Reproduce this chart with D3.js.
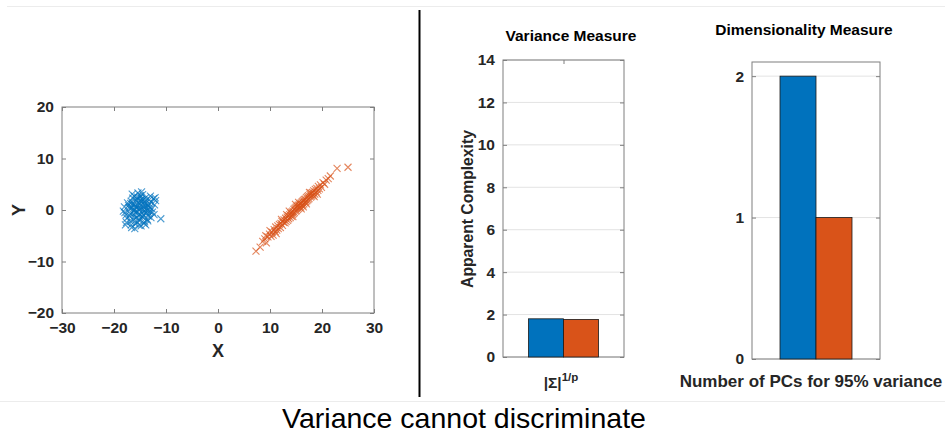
<!DOCTYPE html>
<html>
<head>
<script src="https://cdn.jsdelivr.net/npm/d3@7"></script>
<style>
    body { margin: 0; background: #fff; font-family: Arial, "Liberation Sans", Helvetica, sans-serif; }
    svg { display: block; }
</style>
</head>
<body>
<svg id="fig" width="945" height="434"></svg>
<script>
// scatter data: cluster 1 (blue) and cluster 2 (orange)
const blueX = [-15.2,-14.1,-16.3,-13.5,-15.8,-14.6,-16.9,-13.9,-15.1,-14.4,-17.5,-12.8,-15.6,-14.9,-16.1,-13.2,-17.8,-15.4,-14.2,-16.6,
    -12.4,-15.9,-14.7,-13.6,-16.4,-15.0,-17.2,-14.0,-13.1,-15.3,-16.8,-14.5,-12.2,-15.7,-17.9,-13.8,-16.2,-14.8,-15.5,-13.4,
    -16.7,-12.6,-14.3,-15.9,-17.0,-13.0,-14.6,-16.0,-15.2,-13.7,-18.2,-14.1,-16.5,-12.9,-15.4,-14.4,-17.4,-13.3,-16.3,-15.0,
    -11.0,-14.8,-16.0,-13.6,-15.6,-17.6,-12.3,-14.2,-16.9,-15.1,-13.9,-14.7,-16.1,-12.0,-15.3,-17.1,-13.5,-14.0,-16.6,-15.8,
    -12.7,-14.5,-16.4,-13.2,-15.5,-17.7,-14.9,-13.8,-16.2,-15.0,-12.1,-18.0,-14.3,-16.7,-13.1,-15.7,-14.6,-16.8,-13.4,-15.2];
const blueY = [0.4,1.2,-0.8,0.9,1.9,-1.3,0.2,2.4,-2.1,0.1,-1.6,1.5,-0.3,2.8,1.1,-0.7,-2.9,3.3,-2.6,-3.4,
    2.2,0.7,1.6,-1.8,2.3,-0.9,0.9,-0.2,0.5,1.4,-2.2,3.0,1.0,-1.5,-0.5,1.9,-0.1,-3.1,2.5,-1.2,
    1.7,-0.4,0.6,-2.7,-1.1,2.7,-0.6,0.0,-1.7,0.3,-0.2,-2.3,3.1,-1.5,0.9,2.0,1.4,1.3,-1.9,1.8,
    -1.7,0.2,-3.6,-0.1,2.1,-2.4,-0.9,1.5,-0.7,0.1,-2.9,3.5,2.7,1.8,-1.0,0.5,-2.1,0.8,0.4,-0.5,
    0.2,-1.4,1.0,2.0,-2.4,-1.0,1.0,-0.6,-1.3,2.4,2.4,0.6,-1.0,-2.9,-0.3,0.5,2.2,1.3,0.8,-3.0];
const orangeX = [7.3,8.1,8.6,9.0,9.3,9.6,9.9,10.2,10.4,10.6,10.8,11.0,11.1,11.3,11.5,11.6,11.8,12.0,12.1,12.3,
    12.4,12.6,12.7,12.9,13.0,13.1,13.3,13.4,13.5,13.6,13.8,13.9,14.0,14.1,14.2,14.3,14.4,14.5,14.6,14.7,
    14.8,14.9,15.0,15.1,15.2,15.3,15.4,15.5,15.6,15.7,15.8,15.9,16.0,16.1,16.2,16.3,16.4,16.5,16.6,16.7,
    16.8,16.9,17.0,17.1,17.2,17.3,17.4,17.5,17.7,17.8,17.9,18.0,18.2,18.3,18.4,18.6,18.7,18.9,19.0,19.2,
    19.3,19.5,19.7,19.9,20.2,20.5,20.8,21.2,21.6,22.9,25.0,
    12.2,13.2,14.4,15.5,16.4,17.6,18.5,11.2,10.0,9.2,13.7,16.0,17.0,19.1,14.9];
const orangeY = [-8.0,-7.2,-6.1,-5.6,-6.4,-5.2,-4.7,-5.1,-4.3,-4.9,-3.8,-4.2,-3.3,-3.9,-3.1,-3.6,-2.8,-3.4,-2.6,-2.2,
    -3.0,-2.4,-1.9,-2.5,-1.6,-2.2,-1.4,-2.0,-1.1,-1.7,-0.9,-1.5,-0.6,-1.2,-0.4,-0.9,-0.2,-0.7,0.1,-0.5,
    0.3,-0.2,0.5,-0.1,0.7,0.1,0.9,0.3,1.0,0.5,1.2,0.6,1.4,0.9,1.6,1.0,1.8,1.2,2.0,1.5,
    2.1,1.6,2.4,1.8,2.6,2.0,2.8,2.2,3.0,2.5,3.3,2.7,3.4,2.9,3.7,3.1,4.0,3.5,4.2,3.8,
    4.6,4.1,4.9,4.4,5.3,5.0,5.8,6.1,6.6,8.1,8.3,
    -1.8,-0.9,-1.3,1.5,0.6,3.4,2.6,-4.6,-4.0,-5.0,-0.2,0.2,1.2,3.1,1.1];
const scatterXTicks = [-30,-20,-10,0,10,20,30];
const scatterYTicks = [-20,-10,0,10,20];

// bar data
const seriesNames = ["blue", "orange"];
const varCategory = ["var"];
const varValues = [1.80, 1.77];
const varTicks = [0,2,4,6,8,10,12,14];
const dimCategory = ["dim"];
const dimValues = [2, 1];
const dimTicks = [0,1,2];

const colors = {blue: "#0072BD", orange: "#D95319"};
const axisColor = "#262626";
const boxColor = "#7f7f7f";
const fontFam = "Arial, 'Liberation Sans', Helvetica, sans-serif";

const svg = d3.select("#fig").style("font-family", fontFam);

// frame lines
svg.append("line").attr("x1", 7).attr("x2", 945).attr("y1", 6.5).attr("y2", 6.5)
    .attr("stroke", "#ececec").attr("stroke-width", 1);
svg.append("line").attr("x1", 0).attr("x2", 945).attr("y1", 401.5).attr("y2", 401.5)
    .attr("stroke", "#ececec").attr("stroke-width", 1);
svg.append("line").attr("x1", 419.5).attr("x2", 419.5).attr("y1", 10).attr("y2", 397)
    .attr("stroke", "#000").attr("stroke-width", 2);

// draws a MATLAB style box with inward ticks on all sides
function boxAxes(g, x, y, xTicks, yTicks, grid, showXLabels) {
    const [x0, x1] = x.range();
    const [y0, y1] = [y.range()[1], y.range()[0]];
    if (grid) {
        g.append("g").selectAll("line").data(yTicks).join("line")
            .attr("x1", x0).attr("x2", x1)
            .attr("y1", d => y(d)).attr("y2", d => y(d))
            .attr("stroke", "#e3e3e3");
    }
    const bottom = g.append("g").attr("transform", `translate(0,${y1})`)
        .call(d3.axisBottom(x).tickValues(xTicks).tickSize(-4).tickPadding(9)
            .tickFormat(showXLabels ? d3.format("d") : ""));
    const top = g.append("g").attr("transform", `translate(0,${y0})`)
        .call(d3.axisTop(x).tickValues(xTicks).tickSize(-4).tickFormat(""));
    const left = g.append("g").attr("transform", `translate(${x0},0)`)
        .call(d3.axisLeft(y).tickValues(yTicks).tickSize(-4).tickPadding(8).tickFormat(d3.format("d")));
    const right = g.append("g").attr("transform", `translate(${x1},0)`)
        .call(d3.axisRight(y).tickValues(yTicks).tickSize(-4).tickFormat(""));
    [bottom, top, left, right].forEach(a => {
        a.attr("font-family", fontFam).attr("font-size", 15.5).attr("font-weight", "bold");
        a.select(".domain").remove();
        a.selectAll(".tick line").attr("stroke", boxColor);
        a.selectAll(".tick text").attr("fill", axisColor);
    });
    g.append("rect").attr("x", x0).attr("y", y0).attr("width", x1 - x0).attr("height", y1 - y0)
        .attr("fill", "none").attr("stroke", boxColor).attr("stroke-width", 1);
}

// ---- scatter ----
const sx = d3.scaleLinear().domain([-30, 30]).range([62, 374]);
const sy = d3.scaleLinear().domain([-20, 20]).range([313, 107]);
const gs = svg.append("g");
boxAxes(gs, sx, sy, scatterXTicks, scatterYTicks, false, true);

const xMark = "M-3.5,-3.5L3.5,3.5M-3.5,3.5L3.5,-3.5";
const pts = gs.append("g");
pts.selectAll(".b").data(d3.range(blueX.length)).join("path")
    .attr("class", "b")
    .attr("transform", i => `translate(${sx(blueX[i])},${sy(blueY[i])})`)
    .attr("d", xMark).attr("stroke", colors.blue).attr("stroke-width", 1.1).attr("stroke-opacity", 0.7).attr("fill", "none");
pts.selectAll(".o").data(d3.range(orangeX.length)).join("path")
    .attr("class", "o")
    .attr("transform", i => `translate(${sx(orangeX[i])},${sy(orangeY[i])})`)
    .attr("d", xMark).attr("stroke", colors.orange).attr("stroke-width", 1.1).attr("stroke-opacity", 0.7).attr("fill", "none");

gs.append("text").attr("x", 218).attr("y", 357).attr("text-anchor", "middle")
    .attr("font-weight", "bold").attr("font-size", 18).attr("fill", axisColor).text("X");
gs.append("text").attr("transform", "translate(25,210) rotate(-90)").attr("text-anchor", "middle")
    .attr("font-weight", "bold").attr("font-size", 18).attr("fill", axisColor).text("Y");

// ---- bar charts ----
function barChart(opts) {
    const g = svg.append("g");
    const x = d3.scaleBand().domain(opts.category).range(opts.xRange).paddingInner(0).paddingOuter(opts.pad);
    const xs = d3.scaleBand().domain(seriesNames).range([0, x.bandwidth()]);
    const y = d3.scaleLinear().domain(opts.yDomain).range(opts.yRange);
    const xl = d3.scaleLinear().domain(opts.xRange).range(opts.xRange);
    const center = x(opts.category[0]) + x.bandwidth() / 2;
    boxAxes(g, xl, y, opts.xTick ? [center] : [], opts.yTicks, true, false);
    g.append("g").selectAll("rect").data(seriesNames).join("rect")
        .attr("x", s => x(opts.category[0]) + xs(s))
        .attr("width", xs.bandwidth())
        .attr("y", (s, i) => y(opts.values[i]))
        .attr("height", (s, i) => y(0) - y(opts.values[i]))
        .attr("fill", s => colors[s])
        .attr("stroke", "#1a1a1a").attr("stroke-width", 0.8);
    g.append("text").attr("x", opts.titleX).attr("y", opts.titleY).attr("text-anchor", "middle")
        .attr("font-weight", "bold").attr("font-size", 15.5).attr("fill", "#000").text(opts.title);
    return g;
}

const gv = barChart({
    category: varCategory, values: varValues, xRange: [503, 624], pad: 0.364,
    yDomain: [0, 14], yRange: [357, 60], yTicks: varTicks, xTick: true,
    title: "Variance Measure", titleX: 571, titleY: 41
});
gv.append("text").attr("transform", "translate(473,209) rotate(-90)").attr("text-anchor", "middle")
    .attr("font-weight", "bold").attr("font-size", 15.7).attr("fill", axisColor).text("Apparent Complexity");
const lab = gv.append("text").attr("x", 561).attr("y", 388).attr("text-anchor", "middle")
    .attr("font-weight", "bold").attr("font-size", 15.5).attr("fill", axisColor);
lab.append("tspan").text("|Σ|");
lab.append("tspan").attr("dy", -7).attr("font-size", 11.5).text("1/p");

const gd = barChart({
    category: dimCategory, values: dimValues, xRange: [752, 880], pad: 0.389,
    yDomain: [0, 2.1], yRange: [359, 62], yTicks: dimTicks, xTick: false,
    title: "Dimensionality Measure", titleX: 804, titleY: 35
});
gd.append("text").attr("x", 811).attr("y", 387).attr("text-anchor", "middle")
    .attr("font-weight", "bold").attr("font-size", 17).attr("fill", axisColor).text("Number of PCs for 95% variance");

// caption
svg.append("text").attr("x", 464).attr("y", 428).attr("text-anchor", "middle")
    .attr("font-size", 28.5).attr("fill", "#000").text("Variance cannot discriminate");
</script>
</body>
</html>
